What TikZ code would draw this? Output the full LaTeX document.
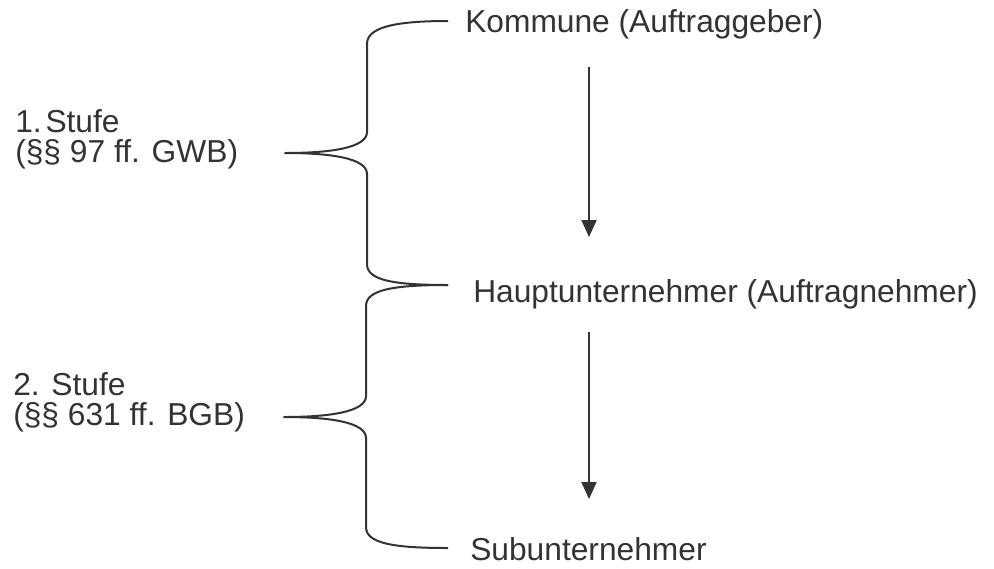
\documentclass[tikz,border=0pt]{standalone}
\usepackage{fontspec}
\setmainfont{Liberation Sans}
\usetikzlibrary{arrows.meta}
\definecolor{ink}{HTML}{333333}
\begin{document}
\begin{tikzpicture}[x=0.75pt,y=-0.75pt,
  label/.style={anchor=base west,inner sep=0pt,text=ink,font=\fontsize{23.8pt}{22.5pt}\selectfont},
  stage/.style={label,align=left},
  brace/.style={draw=ink,line width=1.5pt,line join=round},
  flow/.style={draw=ink,line width=1.5pt,-{Triangle[width=11.25pt,length=12.75pt]}}]
\useasboundingbox (0,0) rectangle (994,568);

% parties of the contract chain
\node[label] (kommune) at (465,32) {Kommune (Auftraggeber)};
\node[label] (haupt) at (473,302) {Hauptunternehmer (Auftragnehmer)};
\node[label] (sub) at (470,560) {Subunternehmer};

% stage labels (anchored at the baseline of their last line)
\node[stage] (stufe1) at (15,162) {1.\kern0.12em Stufe\\(§§ 97 ff. GWB)};
\node[stage] (stufe2) at (13,425) {2. Stufe\\(§§ 631 ff. BGB)};

% first brace
\draw[brace] (448,21) .. controls (392,21) and (367,28) .. (367,44)
  -- (367,132) .. controls (367,148) and (330,153) .. (285,153)
  .. controls (330,153) and (367,158) .. (367,174)
  -- (367,264) .. controls (367,280) and (392,285) .. (448,285);

% second brace
\draw[brace] (448,285) .. controls (392,285) and (366,290) .. (366,306)
  -- (366,396) .. controls (366,412) and (329,417) .. (284,417)
  .. controls (329,417) and (366,422) .. (366,438)
  -- (366,527) .. controls (366,543) and (392,548) .. (448,548);

% arrows between the parties
\coordinate (a1s) at (589,67);
\coordinate (a1e) at (589,237);
\coordinate (a2s) at (589,332);
\coordinate (a2e) at (589,499);
\draw[flow] (a1s) -- (a1e);
\draw[flow] (a2s) -- (a2e);
\end{tikzpicture}
\end{document}
